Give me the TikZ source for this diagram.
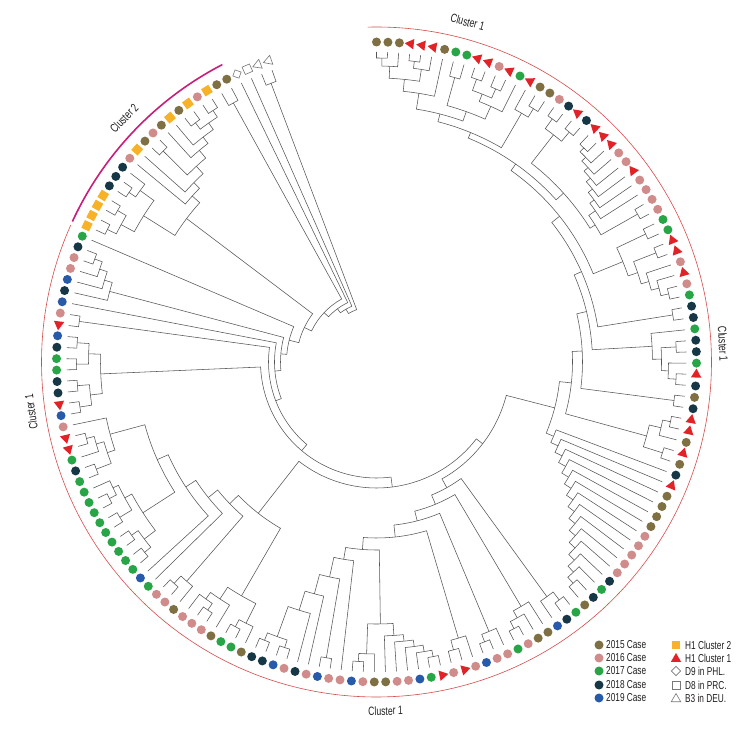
\documentclass[tikz,border=0pt]{standalone}
\usepackage{fontspec}
\setmainfont{Liberation Sans}[FakeStretch=0.72]
\usetikzlibrary{shapes.geometric}
\definecolor{c15}{RGB}{126,112,66}
\definecolor{c16}{RGB}{208,140,138}
\definecolor{c17}{RGB}{40,165,70}
\definecolor{c18}{RGB}{22,55,70}
\definecolor{c19}{RGB}{40,90,170}
\definecolor{cred}{RGB}{225,35,40}
\definecolor{corange}{RGB}{247,178,40}
\definecolor{cmag}{RGB}{200,30,120}
\definecolor{carc}{RGB}{215,75,75}
\definecolor{treegray}{RGB}{85,85,85}
\definecolor{hollow}{RGB}{120,120,120}
\definecolor{txt}{RGB}{35,31,32}

\newcount\trsp \trsp=0
\def\tippos{310}
\def\trpush#1#2{\global\advance\trsp by 1\relax
  \expandafter\xdef\csname tra\the\trsp\endcsname{#1}%
  \expandafter\xdef\csname trr\the\trsp\endcsname{#2}}
\def\lf#1{\pgfmathsetmacro\tmpang{90-2.05*(#1)}\trpush{\tmpang}{\tippos}}
\def\jn#1{%
  \edef\Bang{\csname tra\the\trsp\endcsname}%
  \edef\Brad{\csname trr\the\trsp\endcsname}%
  \global\advance\trsp by -1\relax
  \edef\Aang{\csname tra\the\trsp\endcsname}%
  \edef\Arad{\csname trr\the\trsp\endcsname}%
  \global\advance\trsp by -1\relax
  \draw[trl] (\Aang:\Arad pt) -- (\Aang:#1pt) arc[start angle=\Aang, end angle=\Bang, radius=#1pt] -- (\Bang:\Brad pt);
  \pgfmathsetmacro\Mang{0.5*(\Aang)+0.5*(\Bang)}%
  \trpush{\Mang}{#1}}
\def\catl#1#2#3#4{%
  \lf{#1}%
  \pgfmathtruncatemacro\ccount{#2-#1}%
  \foreach \k in {1,...,\ccount}{%
    \pgfmathtruncatemacro\cidx{#1+\k}%
    \lf{\cidx}%
    \pgfmathsetmacro\crad{#3+(#4-#3)*(\k-1)/max(\ccount-1,1)}%
    \jn{\crad}}}
\def\catr#1#2#3#4{%
  \foreach \k in {#1,...,#2}{\lf{\k}}%
  \pgfmathtruncatemacro\ccount{#2-#1}%
  \foreach \k in {1,...,\ccount}{%
    \pgfmathsetmacro\crad{#3+(#4-#3)*(\k-1)/max(\ccount-1,1)}%
    \jn{\crad}}}
\def\leafnode#1{\node[lf#1] (leaf\idx) at (\ang:320pt) {};}

\begin{document}
\begin{tikzpicture}[x=1pt,y=1pt,
  trl/.style={draw=treegray, line width=0.55pt},
  lfo/.style={circle, fill=c15, inner sep=0pt, minimum size=9pt},
  lfp/.style={circle, fill=c16, inner sep=0pt, minimum size=9pt},
  lfg/.style={circle, fill=c17, inner sep=0pt, minimum size=9pt},
  lfd/.style={circle, fill=c18, inner sep=0pt, minimum size=9pt},
  lfb/.style={circle, fill=c19, inner sep=0pt, minimum size=9pt},
  lfr/.style={regular polygon, regular polygon sides=3, fill=cred, inner sep=0pt, minimum size=12pt, rotate=\ang},
  lfs/.style={rectangle, fill=corange, inner sep=0pt, minimum size=8.5pt, rotate=\ang},
  lfD/.style={rectangle, draw=hollow, line width=0.6pt, inner sep=0pt, minimum size=6.5pt, rotate=\ang+45},
  lfQ/.style={rectangle, draw=hollow, line width=0.6pt, inner sep=0pt, minimum size=8pt, rotate=\ang},
  lfT/.style={regular polygon, regular polygon sides=3, draw=hollow, line width=0.6pt, inner sep=0pt, minimum size=11pt, rotate=\ang},
  clab/.style={font=\fontsize{12}{14}\selectfont, text=txt, inner sep=0pt},
  lgtext/.style={font=\fontsize{11.5}{13}\selectfont, text=txt, anchor=west, inner sep=0pt},
  lgs/.style={rectangle, fill=corange, inner sep=0pt, minimum size=8.5pt},
  lgr/.style={regular polygon, regular polygon sides=3, fill=cred, inner sep=0pt, minimum size=12pt},
  lgD/.style={rectangle, draw=hollow, line width=0.6pt, inner sep=0pt, minimum size=6.5pt, rotate=45},
  lgQ/.style={rectangle, draw=hollow, line width=0.6pt, inner sep=0pt, minimum size=8pt},
  lgT/.style={regular polygon, regular polygon sides=3, draw=hollow, line width=0.6pt, inner sep=0pt, minimum size=11pt}
]
\useasboundingbox (0,0) rectangle (756,732);
\fill[white] (0,0) rectangle (756,732);

\begin{scope}[shift={(376.5,370)}]
% ---------------- tree (postfix: \lf pushes leaf, \jn joins top two) -------------
% top clade 0-16
\lf{0}\lf{1}\jn{304}\lf{2}\jn{296}
\lf{3}\lf{4}\jn{303}\lf{5}\jn{296}
\jn{284}
\lf{6}\jn{272}
\lf{7}\lf{8}\jn{295}
\lf{9}\lf{10}\jn{300}\lf{11}\lf{12}\jn{298}\jn{288}\lf{13}\jn{280}
\jn{266}
\jn{256}
\lf{14}\lf{15}\lf{16}\jn{298}\jn{288}
\jn{248}
% 17-30
\lf{17}\lf{18}\jn{300}\lf{19}\lf{20}\jn{300}\jn{288}
\catl{21}{28}{298}{266}
\lf{29}\lf{30}\jn{300}\jn{258}
\jn{252}
\jn{242}
% 31-38
\lf{31}\lf{32}\jn{298}
\lf{33}\lf{34}\jn{300}
\lf{35}\lf{36}\lf{37}\lf{38}\jn{300}\jn{292}\jn{284}
\jn{276}
\jn{266}
\jn{234}
% 39-40
\lf{39}\lf{40}\jn{300}\jn{224}
% 41-46
\lf{41}\lf{42}\lf{43}\jn{300}\lf{44}\lf{45}\lf{46}\jn{300}\jn{292}\jn{285}\jn{276}
\jn{216}
% 47-48
\lf{47}\lf{48}\jn{300}\jn{206}
% 49-53
\lf{49}\lf{50}\jn{300}\lf{51}\jn{292}\lf{52}\lf{53}\jn{300}\jn{280}\jn{196}
% 54-68 ladder
\catr{54}{68}{296}{192}
\jn{184}
% 69-100
\lf{69}\lf{70}\jn{300}\lf{71}\jn{290}
\lf{72}\lf{73}\lf{74}\lf{75}\jn{300}\jn{292}\jn{284}
\lf{76}\lf{77}\lf{78}\jn{300}\jn{292}
\lf{79}\lf{80}\lf{81}\jn{298}\jn{288}
\catl{82}{87}{300}{274}\lf{88}\lf{89}\lf{90}\jn{300}\jn{292}\jn{262}
\lf{91}\lf{92}\lf{93}\jn{300}\lf{94}\lf{95}\lf{96}\lf{97}\jn{300}\lf{98}\lf{99}\jn{300}\jn{292}\jn{260}\jn{240}\jn{220}\jn{200}
\jn{188}\jn{176}\jn{164}\jn{154}\jn{144}
\jn{134}
% 100-126
\lf{100}\lf{101}\lf{102}\jn{300}\jn{292}\lf{103}\lf{104}\lf{105}\jn{300}\lf{106}\jn{292}\jn{284}\jn{270}
\lf{107}\lf{108}\lf{109}\jn{300}\jn{290}
\lf{110}\lf{111}
\lf{112}\lf{113}\jn{300}\lf{114}\lf{115}\jn{300}\jn{292}\lf{116}\lf{117}\jn{300}\lf{118}\lf{119}\jn{300}\lf{120}\jn{292}\jn{286}\jn{278}
\lf{121}\lf{122}\jn{300}\lf{123}\lf{124}\lf{125}\jn{300}\jn{292}\jn{284}\lf{126}\jn{276}
\jn{240}\jn{228}\jn{216}\jn{204}\jn{192}
\jn{126}
% 127-143
\lf{127}\lf{128}\jn{300}\lf{129}\lf{130}\jn{300}\jn{288}\lf{131}\lf{132}\jn{300}\lf{133}\lf{134}\jn{300}\jn{288}\jn{276}
\jn{116}
\lf{135}\lf{136}\jn{300}\jn{108}
\lf{137}\jn{102}
\lf{138}\lf{139}\lf{140}\lf{141}\lf{142}\jn{300}\jn{292}\jn{284}\jn{276}
\jn{96}
\lf{143}\jn{90}
% cluster 2: 144-160
\lf{144}\lf{145}\jn{300}\lf{146}\lf{147}\jn{300}\jn{290}\lf{148}\lf{149}\jn{300}\lf{150}\jn{292}\jn{275}
\lf{151}\lf{152}\lf{153}\lf{154}\jn{300}\lf{155}\lf{156}\lf{157}\lf{158}\jn{300}\lf{159}\lf{160}\jn{300}\jn{292}\jn{284}\jn{276}\jn{266}\jn{256}\jn{248}
\jn{238}
\jn{80}
\lf{161}\lf{162}\jn{296}\jn{72}
\lf{163}\jn{66}
\lf{164}\jn{61}
\lf{165}\lf{166}\jn{298}\jn{56}

% ---------------- leaves ----------------
\foreach \mk [count=\idx from 0] in {
 o,o,o,r,r,r,o,g,g,r,r,p,r,g,r,o,o,p,d,r,
 d,r,r,r,p,p,r,p,p,p,p,g,g,r,r,p,
 r,p,g,d,d,g,d,d,g,r,d,o,d,r,r,o,r,o,
 d,r,o,o,o,o,p,p,p,p,p,d,g,d,o,
 g,d,b,o,o,p,g,p,p,b,p,r,p,r,g,b,p,p,o,o,p,b,p,p,b,p,d,p,b,d,d,o,
 g,g,o,p,p,p,o,p,p,g,b,g,g,g,g,g,g,g,g,g,
 g,d,g,r,r,p,b,r,d,d,g,g,d,b,r,p,b,d,b,p,p,d,g,
 s,s,s,s,d,d,d,p,s,o,p,o,s,o,s,p,s,o,o,
 D,Q,T,T}{%
  \pgfmathsetmacro\ang{90-2.05*\idx}%
  \expandafter\leafnode\expandafter{\mk}}

% ---------------- cluster arcs ----------------
\draw[carc, line width=0.6pt] (91.5:335pt) arc[start angle=91.5, end angle=-204.1, radius=335pt];
\draw[cmag, line width=1.6pt] (-204.8:335pt) arc[start angle=-204.8, end angle=-242.6, radius=335pt];

% ---------------- cluster labels ----------------
\node[clab, rotate=-15] (lbltop) at (75:352pt) {Cluster 1};
\node[clab, rotate=-87] (lblright) at (3:347pt) {Cluster 1};
\node[clab, rotate=1.5] (lblbottom) at (-88.5:349pt) {Cluster 1};
\node[clab, rotate=98.2] (lblleft) at (188.2:349pt) {Cluster 1};
\node[clab, rotate=46] (lblc2) at (136:351pt) {Cluster 2};
\end{scope}

% ---------------- legend ----------------
\node[lfo] (k1) at (599,87) {};
\node[lfp] (k2) at (599,74) {};
\node[lfg] (k3) at (599,61) {};
\node[lfd] (k4) at (599,47) {};
\node[lfb] (k5) at (599,34) {};
\node[lgtext] (t1) at (606,87) {2015 Case};
\node[lgtext] (t2) at (606,74) {2016 Case};
\node[lgtext] (t3) at (606,61) {2017 Case};
\node[lgtext] (t4) at (606,47) {2018 Case};
\node[lgtext] (t5) at (606,34) {2019 Case};
\node[lgs] (k6) at (676,87) {};
\node[lgr] (k7) at (676,73) {};
\node[lgD] (k8) at (676,61) {};
\node[lgQ] (k9) at (676,47) {};
\node[lgT] (k10) at (676,33) {};
\node[lgtext] (t6) at (685,87) {H1 Cluster 2};
\node[lgtext] (t7) at (685,74) {H1 Cluster 1};
\node[lgtext] (t8) at (685,61) {D9 in PHL.};
\node[lgtext] (t9) at (685,47) {D8 in PRC.};
\node[lgtext] (t10) at (685,34) {B3 in DEU.};
\end{tikzpicture}
\end{document}
